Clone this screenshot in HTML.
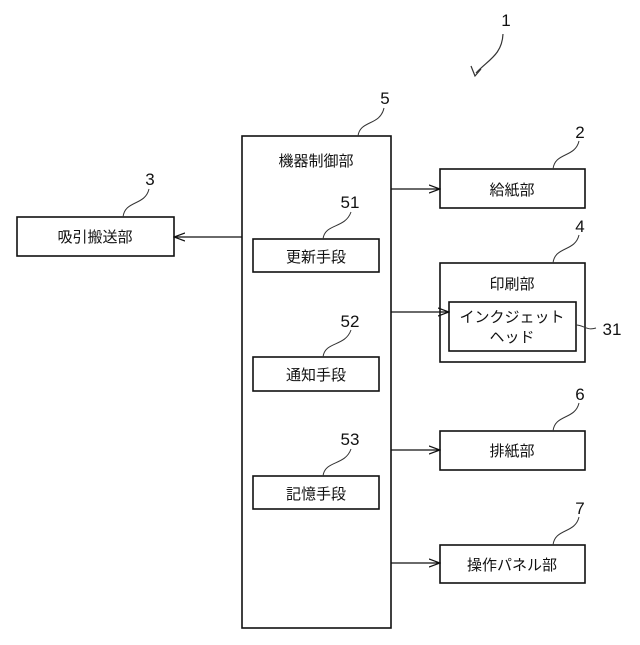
<!DOCTYPE html>
<html><head><meta charset="utf-8"><style>
html,body{margin:0;padding:0;background:#fff;}
text{font-family:"Liberation Sans","Noto Sans CJK JP",sans-serif;fill:#111;}
</style></head><body>
<svg width="640" height="640" viewBox="0 0 640 640" xmlns="http://www.w3.org/2000/svg">
<defs><marker id="a" markerWidth="12" markerHeight="10" refX="11" refY="5" orient="auto" markerUnits="userSpaceOnUse"><path d="M0,1 L11,5 L0,9" fill="none" stroke="#111" stroke-width="1.2"/></marker></defs>
<g fill="none" stroke="#111" stroke-width="1.6">
<rect x="242" y="136" width="149" height="492"/>
<rect x="253" y="239" width="126" height="33"/>
<rect x="253" y="357" width="126" height="34"/>
<rect x="253" y="476" width="126" height="33"/>
<rect x="17" y="217" width="157" height="39"/>
<rect x="440" y="169" width="145" height="39"/>
<rect x="440" y="263" width="145" height="99"/>
<rect x="449" y="302" width="127" height="49"/>
<rect x="440" y="431" width="145" height="39"/>
<rect x="440" y="545" width="145" height="38"/>
</g>
<g stroke="#111" stroke-width="1.3" fill="none">
<line x1="391" y1="189" x2="440" y2="189" marker-end="url(#a)"/>
<line x1="391" y1="312" x2="449" y2="312" marker-end="url(#a)"/>
<line x1="391" y1="450" x2="440" y2="450" marker-end="url(#a)"/>
<line x1="391" y1="563" x2="440" y2="563" marker-end="url(#a)"/>
<line x1="242" y1="237" x2="174" y2="237" marker-end="url(#a)"/>
</g>
<g stroke="#333" stroke-width="1" fill="none">
<path d="M358,136 C360,120 380,126 384,108"/>
<path d="M553,169 C555,152 575,158 579,141"/>
<path d="M553,263 C555,246 575,252 579,235"/>
<path d="M553,431 C555,414 575,420 579,403"/>
<path d="M553,545 C555,528 575,534 579,517"/>
<path d="M123,217 C125,200 145,206 149,189"/>
<path d="M323,239 C325,223 345,229 351,212"/>
<path d="M323,357 C325,341 345,347 351,330"/>
<path d="M323,476 C325,460 345,466 351,449"/>
<path d="M576,325 C584,325 586,331 596,328"/>
<path d="M503,34 C502,55 488,60 476,73" stroke-width="1.2"/>
<path d="M471,66 L475,76 L481,69" stroke-width="1.2"/>
</g>
<g font-size="17" text-anchor="middle">
<text x="506" y="26">1</text>
<text x="385" y="104">5</text>
<text x="580" y="138">2</text>
<text x="150" y="185">3</text>
<text x="580" y="232">4</text>
<text x="580" y="400">6</text>
<text x="580" y="514">7</text>
<text x="350" y="208">51</text>
<text x="350" y="327">52</text>
<text x="350" y="445">53</text>
<text x="612" y="335">31</text>
</g>
<g font-size="15" text-anchor="middle">
<text x="316" y="166">機器制御部</text>
<text x="316" y="262">更新手段</text>
<text x="316" y="380">通知手段</text>
<text x="316" y="499">記憶手段</text>
<text x="95" y="242">吸引搬送部</text>
<text x="512" y="195">給紙部</text>
<text x="512" y="289">印刷部</text>
<text x="512" y="322">インクジェット</text>
<text x="512" y="342">ヘッド</text>
<text x="512" y="456">排紙部</text>
<text x="512" y="570">操作パネル部</text>
</g>
</svg>
</body></html>
